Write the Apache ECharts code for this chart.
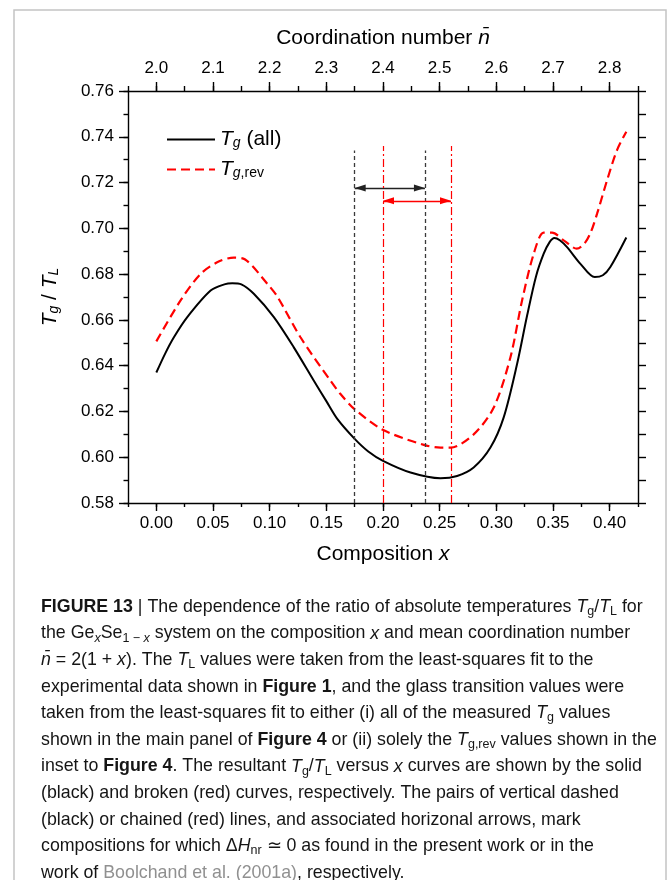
<!DOCTYPE html>
<html>
<head>
<meta charset="UTF-8">
<title>Tg/TL versus composition</title>
<script src="https://cdn.jsdelivr.net/npm/echarts@6/dist/echarts.min.js"></script>
<style>
body { margin: 0; background: #fff; }
#main { width: 670px; height: 880px; }
</style>
</head>
<body>
<div id="main"></div>
<script type="text/javascript">
// Tg/TL from the fit to all measured Tg (solid black)
var allX = [0.000, 0.008, 0.0155, 0.0273, 0.0479, 0.060, 0.067, 0.075, 0.086, 0.1037, 0.1213, 0.139, 0.150, 0.160, 0.175, 0.187, 0.200, 0.2243, 0.2507, 0.2654, 0.280, 0.2948, 0.3065, 0.3183, 0.3272, 0.335, 0.3418, 0.347, 0.3512, 0.356, 0.3624, 0.3742, 0.3868, 0.394, 0.4006, 0.4147];
var allY = [0.637, 0.6455, 0.6524, 0.6612, 0.6728, 0.6755, 0.676, 0.6755, 0.6714, 0.6612, 0.648, 0.6334, 0.6245, 0.6165, 0.608, 0.6025, 0.5984, 0.5933, 0.5908, 0.5918, 0.5955, 0.6042, 0.6174, 0.6407, 0.662, 0.679, 0.6889, 0.694, 0.6958, 0.6948, 0.6918, 0.6845, 0.6787, 0.6795, 0.6831, 0.696];
// Tg/TL from the fit to Tg,rev only (broken red)
var revX = [0.000, 0.0214, 0.0391, 0.055, 0.0684, 0.078, 0.0979, 0.107, 0.1272, 0.1537, 0.1625, 0.1749, 0.1998, 0.236, 0.2507, 0.2595, 0.280, 0.2977, 0.3124, 0.3227, 0.333, 0.3418, 0.3492, 0.360, 0.371, 0.378, 0.3835, 0.3889, 0.3977, 0.4065, 0.4147];
var revY = [0.6506, 0.6685, 0.6801, 0.6855, 0.6872, 0.6865, 0.6758, 0.670, 0.6524, 0.6334, 0.6276, 0.621, 0.612, 0.6054, 0.6042, 0.6042, 0.610, 0.6217, 0.6436, 0.6685, 0.6889, 0.6981, 0.6981, 0.6945, 0.6911, 0.6935, 0.6985, 0.7064, 0.721, 0.7342, 0.7422];

// compositions with dHnr ~ 0: this work (black) and Boolchand et al. (red)
var blackWindow = [0.175, 0.237];
var redWindow = [0.200, 0.260];
var blackLineTop = 0.734;
var redLineTop = 0.736;
var blackArrowY = 0.7176;
var redArrowY = 0.712;

// tick labels
var xMajor = [0.00, 0.05, 0.10, 0.15, 0.20, 0.25, 0.30, 0.35, 0.40];
var nMajor = [2.0, 2.1, 2.2, 2.3, 2.4, 2.5, 2.6, 2.7, 2.8];
var yMajor = [0.58, 0.60, 0.62, 0.64, 0.66, 0.68, 0.70, 0.72, 0.74, 0.76];

var captionLines = [
    '{b|FIGURE 13} | The dependence of the ratio of absolute temperatures {i|T}{s|g}/{i|T}{s|L} for',
    'the Ge{si|x}Se{s|1 \u2212 }{si|x} system on the composition {i|x} and mean coordination number',
    '{i|n\u0304} = 2(1 + {i|x}). The {i|T}{s|L} values were taken from the least-squares fit to the',
    'experimental data shown in {b|Figure 1}, and the glass transition values were',
    'taken from the least-squares fit to either (i) all of the measured {i|T}{s|g} values',
    'shown in the main panel of {b|Figure 4} or (ii) solely the {i|T}{s|g,rev} values shown in the',
    'inset to {b|Figure 4}. The resultant {i|T}{s|g}/{i|T}{s|L} versus {i|x} curves are shown by the solid',
    '(black) and broken (red) curves, respectively. The pairs of vertical dashed',
    '(black) or chained (red) lines, and associated horizonal arrows, mark',
    'compositions for which \u0394{i|H}{s|nr} \u2243 0 as found in the present work or in the',
    'work of {g|Boolchand et al. (2001a)}, respectively.'
];

function zip(xs, ys) {
    var out = [];
    for (var i = 0; i < xs.length; i++) out.push([xs[i], ys[i]]);
    return out;
}
function isIn(list, v) {
    for (var i = 0; i < list.length; i++) {
        if (Math.abs(list[i] - v) < 1e-6) return true;
    }
    return false;
}

var FONT = '"Liberation Sans", Arial, sans-serif';
var axisCol = '#000';
var lw = 1.4;
var capSize = 17.8;
var capCol = '#151515';

var nameRich = {
    i: { fontStyle: 'italic', fontSize: 21, fontFamily: FONT, color: '#000' },
    si: { fontStyle: 'italic', fontSize: 14, fontFamily: FONT, color: '#000', verticalAlign: 'bottom', lineHeight: 10 },
    s: { fontSize: 14, fontFamily: FONT, color: '#000', verticalAlign: 'bottom', lineHeight: 10 }
};

// graphic text uses zrender style names (fill)
var capRich = {
    b: { fontWeight: 'bold', fontSize: capSize, fontFamily: FONT, fill: capCol },
    i: { fontStyle: 'italic', fontSize: capSize, fontFamily: FONT, fill: capCol },
    si: { fontStyle: 'italic', fontSize: 12.5, fontFamily: FONT, fill: capCol, verticalAlign: 'bottom', lineHeight: 8 },
    s: { fontSize: 12.5, fontFamily: FONT, fill: capCol, verticalAlign: 'bottom', lineHeight: 8 },
    g: { fontSize: capSize, fontFamily: FONT, fill: '#909090' }
};

var graphics = [{
    type: 'rect',
    shape: { x: 14, y: 10, width: 652, height: 880 },
    style: { fill: 'none', stroke: '#c4c4c4', lineWidth: 1.5 },
    silent: true
}];
for (var k = 0; k < captionLines.length; k++) {
    graphics.push({
        type: 'text',
        x: 41,
        y: 607 + k * 26.6,
        style: {
            text: captionLines[k],
            rich: capRich,
            fontSize: capSize,
            fontFamily: FONT,
            fill: capCol,
            lineHeight: 22,
            verticalAlign: 'middle'
        },
        silent: true
    });
}

var myChart = echarts.init(document.getElementById('main'));

var option = {
    animation: false,
    backgroundColor: '#fff',
    grid: { left: 128, top: 91, width: 510, height: 412, containLabel: false },
    legend: {
        orient: 'vertical',
        left: 161,
        top: 124,
        itemWidth: 48,
        itemHeight: 14,
        itemGap: 9,
        selectedMode: false,
        data: ['all', 'rev'],
        itemStyle: { opacity: 0 },
        formatter: function (name) {
            if (name === 'all') return '{i|T}{si|g} (all)';
            return '{i|T}{si|g}{s|,rev}';
        },
        textStyle: {
            fontSize: 21,
            fontFamily: FONT,
            color: '#000',
            rich: nameRich
        }
    },
    xAxis: [{
        type: 'value', position: 'bottom',
        min: -0.025, max: 0.425, interval: 0.025,
        axisLine: { onZero: false, lineStyle: { color: axisCol, width: lw } },
        axisTick: { inside: false, length: 4, lineStyle: { color: axisCol, width: lw } },
        splitLine: { show: false },
        axisLabel: {
            margin: 12, fontSize: 17, fontFamily: FONT, color: '#000',
            formatter: function (v) { return isIn(xMajor, v) ? v.toFixed(2) : ''; }
        },
        name: 'Composition {i|x}',
        nameLocation: 'middle',
        nameGap: 41,
        nameTextStyle: { fontSize: 21, fontFamily: FONT, color: '#000', rich: nameRich }
    }, {
        type: 'value', position: 'bottom',
        min: -0.025, max: 0.425, interval: 0.025,
        axisLine: { show: false, onZero: false },
        axisTick: { length: 8, customValues: xMajor, lineStyle: { color: axisCol, width: lw } },
        axisLabel: { show: false },
        splitLine: { show: false }
    }, {
        type: 'value', position: 'top',
        min: 1.95, max: 2.85, interval: 0.05,
        axisLine: { onZero: false, lineStyle: { color: axisCol, width: lw } },
        axisTick: { length: 5, lineStyle: { color: axisCol, width: lw } },
        splitLine: { show: false },
        axisLabel: {
            margin: 14, fontSize: 17, fontFamily: FONT, color: '#000',
            formatter: function (v) { return isIn(nMajor, v) ? v.toFixed(1) : ''; }
        },
        name: 'Coordination number {i|n\u0304}',
        nameLocation: 'middle',
        nameGap: 42,
        nameTextStyle: { fontSize: 21, fontFamily: FONT, color: '#000', rich: nameRich }
    }, {
        type: 'value', position: 'top',
        min: 1.95, max: 2.85, interval: 0.05,
        axisLine: { show: false, onZero: false },
        axisTick: { length: 9, customValues: nMajor, lineStyle: { color: axisCol, width: lw } },
        axisLabel: { show: false },
        splitLine: { show: false }
    }],
    yAxis: [{
        type: 'value', position: 'left',
        min: 0.58, max: 0.76, interval: 0.01,
        axisLine: { show: true, onZero: false, lineStyle: { color: axisCol, width: lw } },
        axisTick: { show: true, length: 4.5, lineStyle: { color: axisCol, width: lw } },
        splitLine: { show: false },
        axisLabel: {
            margin: 14, fontSize: 17, fontFamily: FONT, color: '#000',
            formatter: function (v) { return isIn(yMajor, v) ? v.toFixed(2) : ''; }
        },
        name: '{i|T}{si|g} / {i|T}{si|L}',
        nameLocation: 'middle',
        nameGap: 67,
        nameTextStyle: { fontSize: 21, fontFamily: FONT, color: '#000', rich: nameRich }
    }, {
        type: 'value', position: 'left',
        min: 0.58, max: 0.76, interval: 0.01,
        axisLine: { show: false, onZero: false },
        axisTick: { show: true, length: 9, customValues: yMajor, lineStyle: { color: axisCol, width: lw } },
        axisLabel: { show: false },
        splitLine: { show: false }
    }, {
        type: 'value', position: 'right',
        min: 0.58, max: 0.76, interval: 0.01,
        axisLine: { show: true, onZero: false, lineStyle: { color: axisCol, width: lw } },
        axisTick: { show: true, length: 8, lineStyle: { color: axisCol, width: lw } },
        axisLabel: { show: false },
        splitLine: { show: false }
    }],
    graphic: graphics,
    series: [{
        name: 'all',
        type: 'line',
        xAxisIndex: 0, yAxisIndex: 0,
        data: zip(allX, allY),
        symbol: 'none',
        smooth: 0.3,
        lineStyle: { color: '#000', width: 2 },
        itemStyle: { color: '#000' },
        z: 3,
        markLine: {
            silent: true,
            symbol: 'none',
            label: { show: false },
            lineStyle: { color: '#3a3a3a', width: 1.3, type: [4, 3] },
            data: [
                [{ coord: [blackWindow[0], 0.58] }, { coord: [blackWindow[0], blackLineTop] }],
                [{ coord: [blackWindow[1], 0.58] }, { coord: [blackWindow[1], blackLineTop] }],
                [{ coord: [blackWindow[0], blackArrowY], symbol: 'triangle', symbolSize: [7, 11], symbolOffset: [0, 5.5] },
                 { coord: [blackWindow[1], blackArrowY], symbol: 'triangle', symbolSize: [7, 11], symbolOffset: [0, 5.5],
                   lineStyle: { type: 'solid', color: '#222', width: 1.4 } }]
            ]
        }
    }, {
        name: 'rev',
        type: 'line',
        xAxisIndex: 0, yAxisIndex: 0,
        data: zip(revX, revY),
        symbol: 'none',
        smooth: 0.3,
        lineStyle: { color: '#ff0000', width: 2.2, type: [9, 5] },
        itemStyle: { color: '#ff0000' },
        z: 2,
        markLine: {
            silent: true,
            symbol: 'none',
            label: { show: false },
            lineStyle: { color: '#ff0000', width: 1.2, type: [8, 3, 2, 3] },
            data: [
                [{ coord: [redWindow[0], 0.58] }, { coord: [redWindow[0], redLineTop] }],
                [{ coord: [redWindow[1], 0.58] }, { coord: [redWindow[1], redLineTop] }],
                [{ coord: [redWindow[0], redArrowY], symbol: 'triangle', symbolSize: [7, 11], symbolOffset: [0, 5.5] },
                 { coord: [redWindow[1], redArrowY], symbol: 'triangle', symbolSize: [7, 11], symbolOffset: [0, 5.5],
                   lineStyle: { type: 'solid', color: '#ff0000', width: 1.4 } }]
            ]
        }
    }]
};
myChart.setOption(option);
</script>
</body>
</html>
